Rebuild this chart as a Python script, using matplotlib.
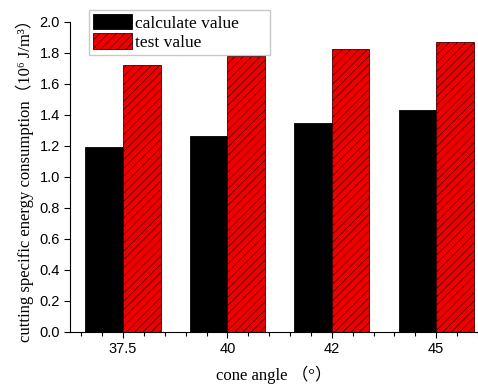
import matplotlib.pyplot as plt
import numpy as np
from matplotlib.ticker import MultipleLocator

angles = ['37.5', '40', '42', '45']
calculate_value = [1.19, 1.265, 1.345, 1.43]
test_value = [1.725, 1.78, 1.825, 1.87]

plt.rcParams['hatch.color'] = '#a80000'
plt.rcParams['hatch.linewidth'] = 0.5

fig = plt.figure(figsize=(4.78, 3.85), dpi=100)
ax = fig.add_axes([0.146, 0.138, 0.854, 0.805])

x = np.arange(len(angles))
w = 0.36
ax.bar(x - w / 2, calculate_value, w, color='black', edgecolor='black',
       linewidth=0.6, label='calculate value')
ax.bar(x + w / 2, test_value, w, color='#ee0000', edgecolor='#400000',
       linewidth=0.6, hatch='////', label='test value')

ax.set_xlim(-0.51, 3.4)
ax.set_ylim(0, 2.0)
ax.set_xticks(x)
ax.set_xticklabels(angles)
ax.xaxis.set_minor_locator(MultipleLocator(0.2))
ax.yaxis.set_major_locator(MultipleLocator(0.2))
ax.yaxis.set_major_formatter(plt.FuncFormatter(lambda v, p: '%.1f' % v))

for s in ['top', 'right']:
    ax.spines[s].set_visible(False)
for s in ['left', 'bottom']:
    ax.spines[s].set_linewidth(0.8)
ax.tick_params(axis='both', which='major', direction='out', length=4, width=0.8,
               labelsize=10.5)
ax.tick_params(axis='x', which='minor', direction='out', length=3, width=0.8)
for lab in ax.get_xticklabels() + ax.get_yticklabels():
    lab.set_family('Liberation Sans')
ax.tick_params(axis='x', pad=3)
ax.tick_params(axis='y', pad=3)

serif = ['Liberation Serif', 'Noto Sans CJK SC']
ax.set_xlabel('cone angle （°）', family=serif, fontsize=12, labelpad=7)
ax.set_ylabel('cutting specific energy consumption（10⁶ J/m³）',
              family=serif, fontsize=12, labelpad=4)

leg = ax.legend(loc='upper left', bbox_to_anchor=(0.047, 1.04, 0.444, 0.0),
                mode='expand', prop={'family': 'Liberation Serif', 'size': 12.5},
                frameon=True, fancybox=False, handlelength=2.2, handleheight=1.0,
                handletextpad=0.2, borderpad=0.25, labelspacing=0.1,
                borderaxespad=0)
leg.get_frame().set_edgecolor('#bbbbbb')
leg.get_frame().set_linewidth(1.0)

fig.savefig('out.png', dpi=100)
